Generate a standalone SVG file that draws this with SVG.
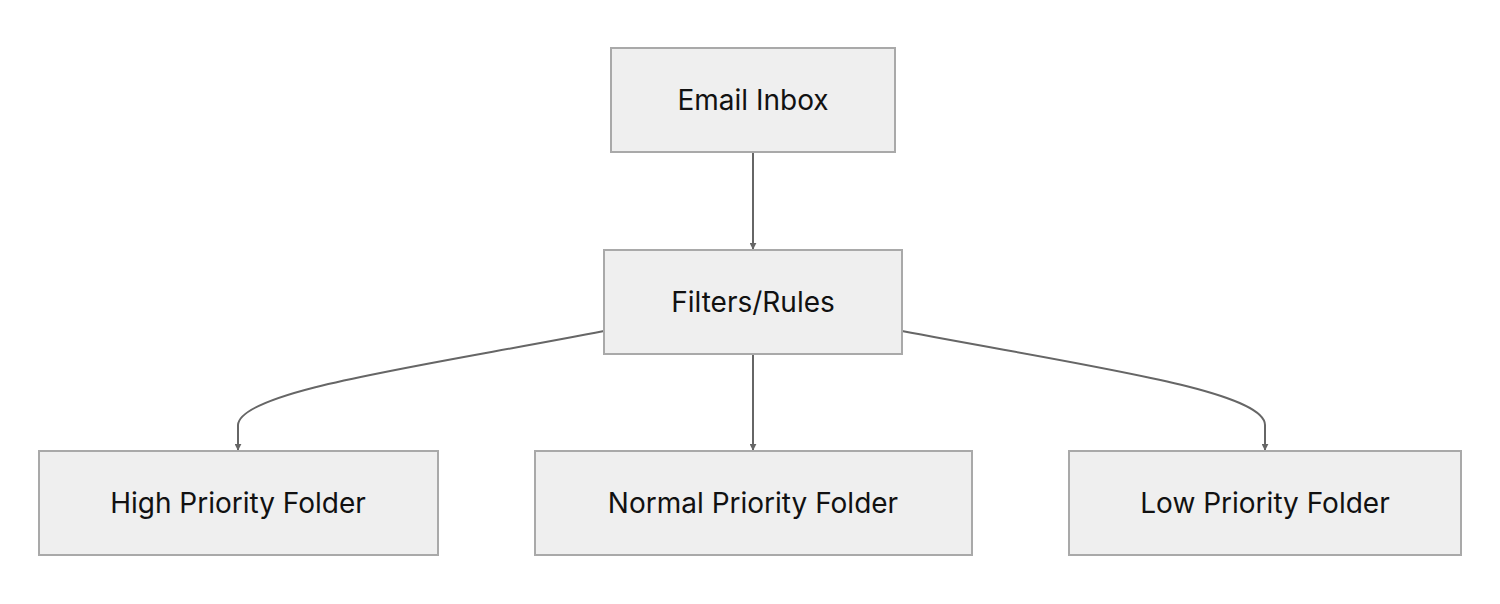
<svg xmlns="http://www.w3.org/2000/svg" width="1500" height="604" viewBox="0 0 1500 604">
<style>
.n rect{fill:#efefef;stroke:#a9a9a9;stroke-width:2}
.n text{font-family:Inter,"Liberation Sans",sans-serif;font-size:28px;fill:#111;text-anchor:middle;dominant-baseline:central}
.e path{fill:none;stroke:#666;stroke-width:2;marker-end:url(#a)}
</style>
<defs><marker id="a" viewBox="0 0 10 10" refX="9" refY="5" markerWidth="7" markerHeight="7" orient="auto" markerUnits="userSpaceOnUse" ><path d="M0,0L10,5L0,10z" fill="#666"/></marker></defs>
<rect width="1500" height="604" fill="#fff"/>
<g class="e">
<path d="M753,153V249" style="marker-end:none"/>
<path d="M753,235V249" />
<path d="M753,354V450"/>
<path d="M604,331C430,365 240,390 238,425V450"/>
<path d="M902,331C1080,365 1265,390 1265,425V450"/>
</g>
<g class="n" id="inbox"><rect x="611" y="48" width="284" height="104"/><text x="753" y="100">Email Inbox</text></g>
<g class="n" id="filters"><rect x="604" y="250" width="298" height="104"/><text x="753" y="302">Filters/Rules</text></g>
<g class="n" id="high"><rect x="39" y="451" width="399" height="104"/><text x="238" y="503">High Priority Folder</text></g>
<g class="n" id="normal"><rect x="535" y="451" width="437" height="104"/><text x="753" y="503">Normal Priority Folder</text></g>
<g class="n" id="low"><rect x="1069" y="451" width="392" height="104"/><text x="1265" y="503">Low Priority Folder</text></g>
</svg>
